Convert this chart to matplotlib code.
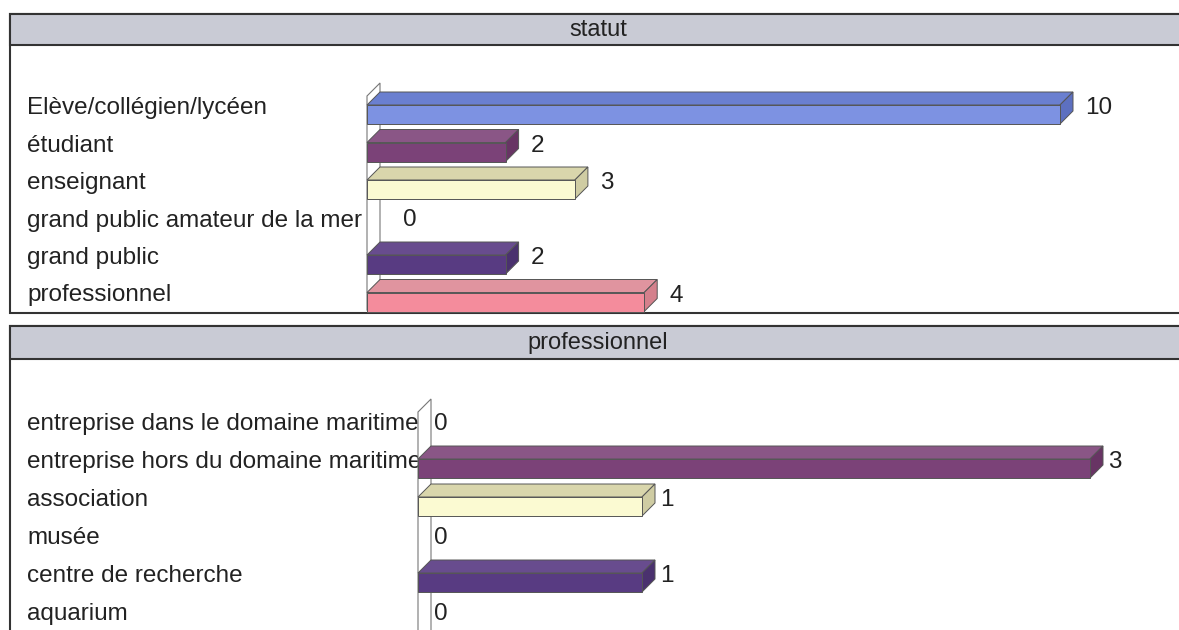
import matplotlib.pyplot as plt
import matplotlib.transforms as mtransforms
from matplotlib.patches import Rectangle, Polygon

plt.rcParams['font.family'] = ['Liberation Sans', 'DejaVu Sans']

# data
statut_labels = ["Elève/collégien/lycéen", "étudiant", "enseignant",
                 "grand public amateur de la mer", "grand public", "professionnel"]
statut_values = [10, 2, 3, 0, 2, 4]

pro_labels = ["entreprise dans le domaine maritime", "entreprise hors du domaine maritime",
              "association", "musée", "centre de recherche", "aquarium"]
pro_values = [0, 3, 1, 0, 1, 0]

# colours (front, top, side) per category position
palette = [
    ("#7d92e2", "#6a7fd0", "#5d70c0"),
    ("#7b4278", "#8a5686", "#683464"),
    ("#fbfad2", "#d9d6ac", "#cfcca3"),
    ("#ccffff", "#b8e6e6", "#a8d6d6"),
    ("#583b82", "#684c8e", "#4a316e"),
    ("#f48c9c", "#e0949f", "#d4808c"),
]

W, H = 1179, 630
fig = plt.figure(figsize=(W / 100, H / 100), dpi=100)
fig.patch.set_facecolor("white")

DEPTH = 13   # px
FRONT = 19   # px
FS = 17.5


def fx(px):
    return px / W


def fy(py):
    return 1 - py / H


def panel(top, bottom, band_bottom, title):
    fig.add_artist(Rectangle((fx(10), fy(bottom)), fx(1200) - fx(10), fy(top) - fy(bottom),
                             transform=fig.transFigure, facecolor="white",
                             edgecolor="#333333", lw=1.5, zorder=0))
    fig.add_artist(Rectangle((fx(10), fy(band_bottom)), fx(1200) - fx(10), fy(top) - fy(band_bottom),
                             transform=fig.transFigure, facecolor="#c9cbd5",
                             edgecolor="#333333", lw=1.5, zorder=0))
    fig.text(fx(598), fy((top + band_bottom) / 2), title, ha="center", va="center",
             fontsize=FS - 0.5, color="#222222")


def bar_chart(ax_left, ax_right, ax_top, ax_bottom, first_row, step, vmax,
              labels, values, wall_below, lab_off, zero_off):
    ax = fig.add_axes([fx(ax_left), fy(ax_bottom), fx(ax_right) - fx(ax_left),
                       fy(ax_top) - fy(ax_bottom)])
    ax.set_xlim(0, vmax)
    ax.set_ylim((ax_bottom - first_row) / step, (ax_top - first_row) / step)
    ax.axis("off")

    sx = vmax / (ax_right - ax_left)   # data per px
    sy = 1 / step
    dx, dy = DEPTH * sx, DEPTH * sy
    n = len(values)

    # side wall
    wtop = -12 * sy
    wbot = (n - 1) + wall_below * sy
    ax.add_patch(Polygon([(0, wbot), (0, wtop), (dx, wtop - dy), (dx, wbot - dy)],
                         closed=True, facecolor="white", edgecolor="#777777",
                         lw=0.8, zorder=2, clip_on=False))

    lab_tr = mtransforms.blended_transform_factory(fig.transFigure, ax.transData)
    for i, (lab, v) in enumerate(zip(labels, values)):
        ax.text(fx(27), i, lab, transform=lab_tr, ha="left", va="center",
                fontsize=FS, color="#222222", zorder=1, clip_on=False)
        front, top, side = palette[i]
        ft = i - 3 * sy
        fb = ft + FRONT * sy
        if v > 0:
            ax.add_patch(Polygon([(0, ft), (v, ft), (v + dx, ft - dy), (dx, ft - dy)],
                                 facecolor=top, edgecolor="#555555", lw=0.7,
                                 zorder=3, clip_on=False))
            ax.add_patch(Polygon([(v, ft), (v + dx, ft - dy), (v + dx, fb - dy), (v, fb)],
                                 facecolor=side, edgecolor="#555555", lw=0.7,
                                 zorder=3, clip_on=False))
            ax.add_patch(Rectangle((0, ft), v, fb - ft, facecolor=front,
                                   edgecolor="#555555", lw=0.7, zorder=3, clip_on=False))
        off = lab_off if v > 0 else zero_off
        ax.text(v + dx + off * sx, i, str(v), ha="left", va="center",
                fontsize=FS, color="#222222", zorder=4, clip_on=False)
    return ax


panel(14, 313, 45, "statut")
bar_chart(367, 1060, 70, 312, 108, 37.5, 10, statut_labels, statut_values, 15, 12, 23)

panel(326, 660, 359, "professionnel")
bar_chart(418, 1090, 380, 630, 424, 38, 3, pro_labels, pro_values, 30, 5, 3)

fig.savefig("out.png", dpi=100)
